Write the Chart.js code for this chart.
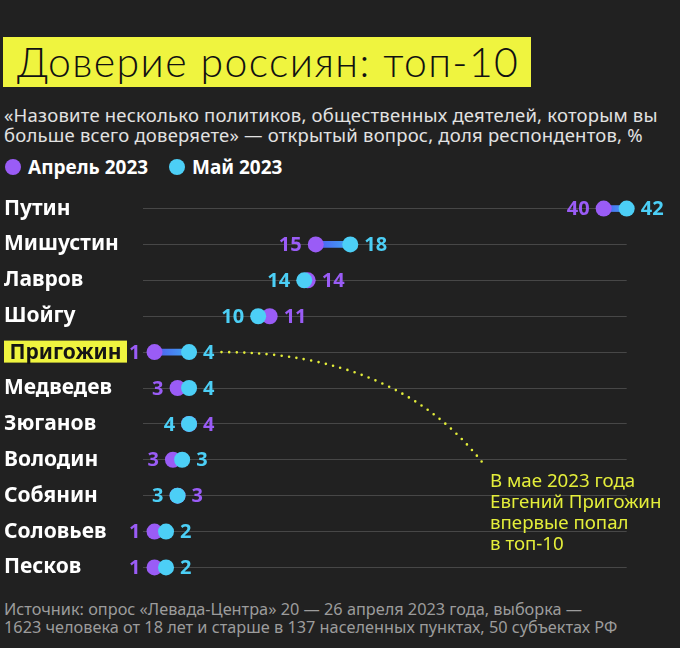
<!DOCTYPE html>
<html>
<head>
<meta charset="utf-8">
<title>Доверие россиян: топ-10</title>
<script src="https://cdn.jsdelivr.net/npm/chart.js"></script>
<style>
  html, body { margin: 0; padding: 0; }
  body { width: 680px; height: 648px; background: #212121; position: relative; overflow: hidden; font-family: 'Noto Sans', sans-serif; }
  #title { position: absolute; left: 3px; top: 37px; width: 528px; height: 50px; background: #eff43f; }
  #title span { position: absolute; left: 14px; top: 0; line-height: 50px; font-family: Lato, sans-serif; font-weight: 300; font-size: 41px; letter-spacing: 1.4px; color: #111; white-space: nowrap; }
  #subtitle { position: absolute; left: 4px; top: 104.5px; font-size: 18.5px; letter-spacing: 0.2px; line-height: 20px; color: #e2e2e2; white-space: nowrap; }
  .dot { position: absolute; width: 16px; height: 16px; border-radius: 50%; top: 159px; }
  .leg { position: absolute; top: 158px; font-size: 19px; line-height: 19px; font-weight: bold; color: #fff; white-space: nowrap; }
  #source { position: absolute; left: 4px; top: 601px; font-size: 16.3px; line-height: 17.5px; color: #9c9c9c; white-space: nowrap; }
  #chart { position: absolute; left: 0; top: 178px; }
</style>
</head>
<body>
<div id="title"><span>Доверие россиян: топ-10</span></div>
<div id="subtitle">«Назовите несколько политиков, общественных деятелей, которым вы<br>больше всего доверяете» — открытый вопрос, доля респондентов, %</div>
<span class="dot" style="left:5px;background:#9a5cf6"></span>
<span class="leg" style="left:28px">Апрель 2023</span>
<span class="dot" style="left:169px;background:#4ccff6"></span>
<span class="leg" style="left:192px">Май 2023</span>
<canvas id="chart" width="680" height="420"></canvas>
<div id="source">Источник: опрос «Левада-Центра» 20 — 26 апреля 2023 года, выборка —<br>1623 человека от 18 лет и старше в 137 населенных пунктах, 50 субъектах РФ</div>
<script>
const names = ['Путин', 'Мишустин', 'Лавров', 'Шойгу', 'Пригожин', 'Медведев', 'Зюганов', 'Володин', 'Собянин', 'Соловьев', 'Песков'];
const april = [40, 15, 14.3, 11, 1, 3, 4, 2.6, 3, 1, 1];
const may = [42, 18, 14, 10, 4, 4, 4, 3.4, 3, 2, 2];
const seriesNames = ['Апрель 2023', 'Май 2023'];
const highlighted = 'Пригожин';
const note = ['В мае 2023 года', 'Евгений Пригожин', 'впервые попал', 'в топ-10'];

const PURPLE = '#9a5cf6';
const CYAN = '#4ccff6';
const YELLOW = '#eff43f';
const R = 8;
const hi = names.indexOf(highlighted);

// перемычка: от синего к голубому
function barColor(c) {
  const xs = c.chart.scales.x;
  const v = c.raw;
  if (!xs || !v) return '#4a6cf2';
  const a = xs.getPixelForValue(Math.min(v[0], v[1]));
  const b = xs.getPixelForValue(Math.max(v[0], v[1]));
  if (!isFinite(a) || !isFinite(b) || b - a < 1) return '#4a6cf2';
  const g = c.chart.ctx.createLinearGradient(a, 0, b, 0);
  g.addColorStop(0, '#4f5af0');
  g.addColorStop(1, '#40a8f4');
  return g;
}

// подписи значений слева и справа от точек
const valueLabels = {
  id: 'valueLabels',
  afterDatasetsDraw(chart) {
    const ctx = chart.ctx;
    const mMay = chart.getDatasetMeta(0), mApr = chart.getDatasetMeta(1);
    ctx.save();
    ctx.font = 'bold 20px "Noto Sans"';
    ctx.textBaseline = 'middle';
    names.forEach((n, i) => {
      const pa = mApr.data[i], pm = mMay.data[i];
      const y = pa.y + 1;
      let left, right;
      if (may[i] <= april[i]) {
        left = { v: may[i], c: CYAN }; right = { v: april[i], c: PURPLE };
      } else {
        left = { v: april[i], c: PURPLE }; right = { v: may[i], c: CYAN };
      }
      const xl = Math.min(pa.x, pm.x) - R - 6;
      const xr = Math.max(pa.x, pm.x) + R + 6;
      ctx.textAlign = 'right';
      ctx.fillStyle = left.c;
      ctx.fillText(Math.round(left.v), xl, y);
      ctx.textAlign = 'left';
      ctx.fillStyle = right.c;
      ctx.fillText(Math.round(right.v), xr, y);
    });
    ctx.restore();
  }
};

// выделенная фамилия и сноска
const annotation = {
  id: 'annotation',
  afterDraw(chart) {
    const ctx = chart.ctx;
    const yScale = chart.scales.y;
    const area = chart.chartArea;
    const y = yScale.getPixelForTick(hi);
    ctx.save();
    ctx.font = 'bold 21px "Noto Sans"';
    const w = ctx.measureText(highlighted).width;
    ctx.fillStyle = YELLOW;
    ctx.fillRect(4, y - 11.5, w + 11, 22);
    ctx.fillStyle = '#151515';
    ctx.textBaseline = 'middle';
    ctx.textAlign = 'left';
    ctx.fillText(highlighted, 9.5, y + 1);

    ctx.font = 'bold 20px "Noto Sans"';
    const pm = chart.getDatasetMeta(0).data[hi];
    const lw = ctx.measureText(String(Math.round(may[hi]))).width;
    const x0 = pm.x + R + 6 + lw + 7;
    const x1 = area.left + 340;
    const y1 = yScale.getPixelForTick(7) + 3.5;
    ctx.strokeStyle = '#e4ee3a';
    ctx.lineWidth = 2.6;
    ctx.lineCap = 'round';
    ctx.setLineDash([0, 7.5]);
    ctx.beginPath();
    ctx.moveTo(x0, y);
    ctx.quadraticCurveTo(x0 + 175, y, x1, y1);
    ctx.stroke();

    ctx.setLineDash([]);
    ctx.font = '18.7px "Noto Sans"';
    ctx.fillStyle = '#e4ee3a';
    note.forEach((t, k) => ctx.fillText(t, x1 + 7, y1 + 18 + k * 21));
    ctx.restore();
  }
};

new Chart(document.getElementById('chart'), {
  type: 'bar',
  data: {
    labels: names,
    datasets: [
      { type: 'line', label: seriesNames[1], data: may, showLine: false, pointRadius: R, pointHoverRadius: R,
        pointBackgroundColor: CYAN, pointBorderWidth: 0, order: 1, clip: false },
      { type: 'line', label: seriesNames[0], data: april, showLine: false, pointRadius: R, pointHoverRadius: R,
        pointBackgroundColor: PURPLE, pointBorderWidth: 0, order: 2, clip: false },
      { type: 'bar', label: 'diff', data: names.map((n, i) => [april[i], may[i]]),
        backgroundColor: barColor, barThickness: 6, borderSkipped: false, order: 3, clip: false }
    ]
  },
  options: {
    indexAxis: 'y',
    responsive: false,
    animation: false,
    events: [],
    layout: { padding: { left: 4, right: 53.3, top: 9.5, bottom: 10.8 } },
    plugins: { legend: { display: false }, tooltip: { enabled: false } },
    scales: {
      x: { type: 'linear', min: 0, max: 42, display: false },
      y: {
        type: 'category',
        offset: true,
        border: { display: false },
        grid: { offset: false, color: '#474747', lineWidth: 1, drawTicks: false },
        ticks: {
          autoSkip: false,
          crossAlign: 'far',
          padding: 0,
          color: (c) => c.index === hi ? 'transparent' : '#ffffff',
          font: { family: 'Noto Sans', weight: 'bold', size: 21 }
        },
        afterFit(scale) { scale.width = 139; }
      }
    }
  },
  plugins: [valueLabels, annotation]
});
</script>
</body>
</html>
